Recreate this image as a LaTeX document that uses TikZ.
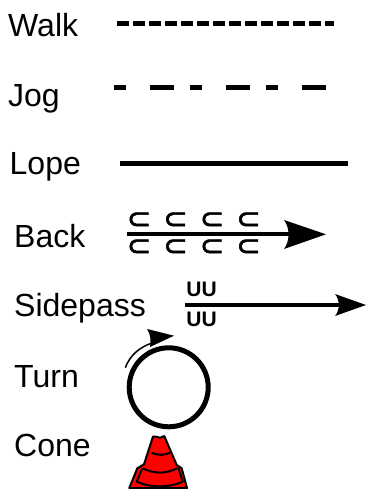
\documentclass[tikz,border=0pt]{standalone}
\usepackage{fontspec}
\setmainfont{Liberation Sans}
\newfontfamily\symfont[FakeBold=2]{DejaVu Sans}
\tikzset{
  lbl/.style={anchor=base west,inner sep=0pt,font=\fontsize{32}{38}\selectfont},
  thick5/.style={line width=5pt},
  sub/.style={anchor=center,inner sep=0pt,font=\symfont\fontsize{29}{32}\selectfont},
  uu/.style={anchor=center,inner sep=0pt,font=\bfseries\fontsize{21}{24}\selectfont},
  conel/.style={line width=2pt,line join=round},
}
\begin{document}
\begin{tikzpicture}[x=1pt,y=-1pt]
\useasboundingbox (0,0) rectangle (366,489);
\node[lbl] (walk) at (8,36.5) {Walk};
\node[lbl] (jog) at (8,106.5) {Jog};
\node[lbl] (lope) at (9.5,174) {Lope};
\node[lbl] (back) at (14,247) {Back};
\node[lbl] (side) at (14,316) {Sidepass};
\node[lbl] (turn) at (14,387) {Turn};
\node[lbl] (cone) at (14,456) {Cone};
% walk
\draw[thick5,dash pattern=on 12pt off 4pt] (117.3,23.7) -- (334.3,23.7);
% jog
\draw[thick5,dash pattern=on 12pt off 24pt on 24pt off 16pt] (114,88) -- (326,88);
% lope
\draw[thick5] (120,163.3) -- (348,163.3);
% back
\draw[line width=4pt] (126.7,234.3) -- (295,234.3);
\fill (326,234.3) -- (284,220) .. controls (290,228) and (290,241) .. (284,249) -- cycle;
\foreach \x in {139,175.5,212,248.5}{
  \node[sub] at (\x,220.5) {⊂};
  \node[sub] at (\x,247.5) {⊂};
}
% sidepass
\draw[line width=4pt] (185,305) -- (340,305);
\fill (366,305) -- (335,294) .. controls (340,300) and (340,310) .. (335,316) -- cycle;
\node[uu] (u1) at (201.5,289) {UU};
\node[uu] (u2) at (201.5,319) {UU};
% turn
\draw[line width=5pt] (168.7,387.3) circle (39.5);
\draw[line width=1.5pt] (125.3,367.7) .. controls (130,355) and (140,347) .. (152,343);
\fill (174,335.7) -- (147,329) .. controls (151,335) and (151,341) .. (150,347) -- cycle;
% cone
\begin{scope}
\clip (0,0) rectangle (366,489);
\draw[conel,fill=red] (156.7,436.7) -- (160,437.8) -- (164.3,436) -- (176.7,465) -- (181.7,468.3) -- (187,488) -- (129.3,488) -- (137.3,468.3) -- (144,464.3) -- (153,436.5) -- cycle;
\draw[conel] (151.7,452.7) .. controls (158,455.5) and (164,455.5) .. (170,452.7);
\draw[conel] (142.7,468.3) .. controls (154,474) and (166,474) .. (177,468.3);
\draw[conel] (142.3,468.3) -- (136.7,481.7) .. controls (152,488) and (168,488) .. (182.7,481.7) -- (178.3,467.7);
\end{scope}
\end{tikzpicture}
\end{document}
